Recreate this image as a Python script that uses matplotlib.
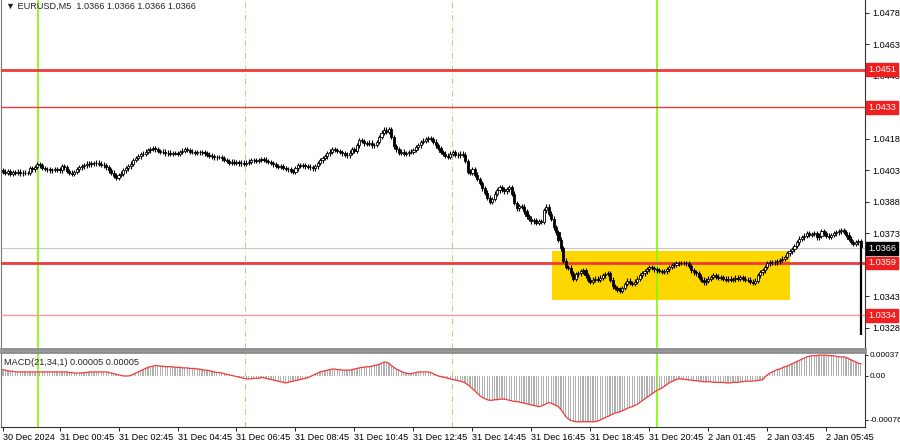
import matplotlib.pyplot as plt
import numpy as np

plt.rcParams['font.family'] = ['Liberation Sans', 'DejaVu Sans']

# EURUSD M5 closes, in points (1e-5) above 1.03000, one value per bar
close_pts = [
    1025, 1020, 1028, 1015, 1022, 1018, 1025, 1016, 1020, 1018,
    1018, 1042, 1035, 1047, 1060, 1055, 1042, 1038, 1035, 1030,
    1032, 1036, 1037, 1030, 1050, 1045, 1028, 1020, 1015, 1022,
    1035, 1045, 1050, 1055, 1062, 1060, 1066, 1064, 1068, 1062,
    1058, 1055, 1045, 1030, 1020, 1005, 995, 1008, 1015, 1030,
    1040, 1050, 1062, 1080, 1090, 1098, 1108, 1110, 1120, 1126,
    1132, 1137, 1130, 1122, 1118, 1120, 1112, 1115, 1110, 1113,
    1113, 1110, 1118, 1125, 1130, 1127, 1120, 1118, 1115, 1118,
    1116, 1118, 1112, 1105, 1100, 1097, 1092, 1095, 1094, 1088,
    1080, 1075, 1068, 1072, 1066, 1070, 1064, 1068, 1062, 1068,
    1072, 1078, 1080, 1076, 1080, 1084, 1082, 1075, 1070, 1066,
    1060, 1052, 1047, 1050, 1042, 1038, 1035, 1028, 1022, 1040,
    1056, 1052, 1055, 1050, 1048, 1045, 1040, 1050, 1065, 1078,
    1090, 1098, 1112, 1120, 1132, 1128, 1122, 1118, 1112, 1105,
    1102, 1115, 1130, 1125, 1150, 1175, 1170, 1160, 1158, 1162,
    1150, 1152, 1165, 1190, 1210, 1225, 1215, 1228, 1190, 1145,
    1130, 1115, 1120, 1108, 1112, 1118, 1120, 1128, 1140, 1150,
    1165, 1172, 1178, 1185, 1180, 1168, 1150, 1138, 1118, 1110,
    1100, 1095, 1110, 1118, 1105, 1102, 1110, 1105, 1075, 1025,
    1020, 1035, 1010, 990, 970, 945, 925, 900, 882, 895,
    920, 935, 950, 940, 930, 940, 952, 920, 875, 850,
    860, 858, 835, 812, 800, 788, 795, 780, 790, 785,
    840, 858, 825, 800, 760, 735, 700, 660, 600, 570,
    568, 540, 515, 535, 540, 550, 556, 530, 510, 500,
    510, 515, 509, 520, 530, 538, 542, 510, 478, 470,
    462, 458, 470, 490, 505, 495, 490, 500, 515, 530,
    540, 550, 560, 570, 565, 560, 555, 552, 548, 550,
    560, 570, 578, 582, 588, 590, 590, 590, 588, 575,
    555, 545, 540, 525, 510, 498, 505, 515, 522, 530,
    525, 520, 523, 515, 510, 515, 509, 512, 520, 515,
    522, 515, 508, 510, 500, 495, 505, 530, 545, 555,
    570, 588, 592, 595, 593, 598, 604, 610, 618, 635,
    645, 655, 670, 688, 705, 712, 720, 730, 722, 728,
    730, 712, 720, 740, 730, 720, 715, 722, 730, 736,
    740, 745, 738, 725, 705, 690, 680, 688, 692, 666,
]

# MACD(21,34,1) histogram, in 1e-5 units, one value per bar
macd_pts = [
    11, 10, 9, 8, 8, 7, 7, 7, 7, 7,
    7, 7, 7, 7, 7, 7, 7, 7, 7, 7,
    7, 7, 7, 7, 7, 7, 7, 6, 6, 5,
    5, 5, 5, 6, 6, 7, 7, 7, 7, 7,
    7, 7, 7, 6, 5, 4, 3, 2, 1, 0,
    0, 0, 1, 3, 5, 7, 9, 11, 13, 15,
    16, 17, 18, 18, 17, 17, 16, 16, 16, 16,
    15, 15, 15, 14, 14, 14, 13, 13, 13, 12,
    12, 11, 10, 10, 9, 8, 7, 6, 6, 5,
    4, 3, 2, 1, 0, -1, -2, -3, -4, -5,
    -5, -5, -4, -4, -4, -3, -3, -4, -5, -6,
    -7, -8, -9, -10, -11, -12, -11, -10, -9, -8,
    -7, -6, -5, -4, -3, -1, 1, 3, 5, 7,
    8, 9, 10, 11, 12, 12, 11, 11, 10, 10,
    10, 10, 11, 12, 13, 14, 15, 15, 16, 16,
    17, 18, 19, 20, 22, 24, 24, 22, 18, 15,
    12, 10, 8, 6, 5, 4, 4, 5, 6, 7,
    7, 7, 7, 7, 6, 4, 2, 0, -1, -2,
    -3, -4, -5, -6, -7, -8, -9, -10, -12, -15,
    -18, -22, -26, -30, -34, -37, -39, -41, -42, -42,
    -41, -41, -40, -40, -40, -41, -42, -43, -44, -44,
    -45, -46, -47, -48, -49, -50, -51, -52, -53, -52,
    -50, -48, -46, -47, -49, -51, -53, -58, -64, -70,
    -74, -77, -78, -79, -79, -79, -79, -79, -79, -79,
    -79, -79, -78, -76, -74, -72, -70, -68, -66, -64,
    -63, -62, -60, -58, -56, -54, -53, -51, -49, -46,
    -43, -40, -37, -34, -31, -28, -25, -23, -21, -18,
    -15, -12, -10, -8, -6, -5, -5, -6, -6, -7,
    -7, -8, -8, -9, -9, -10, -10, -10, -10, -11,
    -11, -11, -11, -11, -12, -12, -12, -11, -11, -11,
    -10, -10, -9, -9, -9, -9, -8, -8, -7, -7,
    -2, 2, 5, 7, 9, 11, 12, 14, 16, 17,
    19, 21, 23, 25, 27, 29, 31, 33, 34, 35,
    35, 35, 36, 36, 36, 36, 35, 35, 35, 34,
    33, 33, 33, 32, 30, 28, 26, 24, 22, 21,
]

last_low = 1.03246  # long wick of the current bar
current_price = 1.0366

time_labels = ['30 Dec 2024', '31 Dec 00:45', '31 Dec 02:45', '31 Dec 04:45', '31 Dec 06:45',
               '31 Dec 08:45', '31 Dec 10:45', '31 Dec 12:45', '31 Dec 14:45', '31 Dec 16:45',
               '31 Dec 18:45', '31 Dec 20:45', '2 Jan 01:45', '2 Jan 03:45', '2 Jan 05:45']
label_bars = [0, 23, 47, 71, 95, 119, 143, 167, 191, 215, 239, 263, 287, 311, 335]

price_ticks = [1.0478, 1.0463, 1.0448, 1.0418, 1.0403, 1.0388, 1.0373, 1.0343, 1.0328]
levels = [1.0451, 1.0433, 1.0359, 1.0334]
level_widths = [2.0, 1.0, 2.0, 1.0]
level_colors = ['#f03a3a', '#f03a3a', '#f03a3a', '#f79a9a']

green_bars = [14.2, 266]
dash_bars = [98.5, 182.7]
box_bars = (223.4, 320.2)
box_prices = (1.03413, 1.03647)

macd_ticks = [0.00037, 0.0, -0.00076]
macd_tick_labels = ['0.00037', '0.00', '-0.00076']

closes = 1.03 + np.array(close_pts) / 1e5
opens = np.r_[closes[0] + 0.00005, closes[:-1]]
macd = np.array(macd_pts) / 1e5
idx = np.arange(len(closes))

fig = plt.figure(figsize=(9, 4.41), dpi=100)
W, H = 900, 441
ax = fig.add_axes([1 / W, (H - 349) / H, 864 / W, 349 / H])
ax2 = fig.add_axes([1 / W, (H - 427) / H, 864 / W, 75 / H])

xlim = (-0.81, 350.7)
FS = 6.6

# main panel
ax.set_xlim(*xlim)
ax.set_ylim(1.0318, 1.048419)

ax.add_patch(plt.Rectangle((box_bars[0], box_prices[0]), box_bars[1] - box_bars[0],
                           box_prices[1] - box_prices[0], color='#ffd700', zorder=1, lw=0))
for lv, lw, c in zip(levels, level_widths, level_colors):
    ax.axhline(lv, color=c, lw=lw, zorder=3)
ax.axhline(current_price, color='#c8c8c8', lw=0.8, zorder=1.5)
for b in green_bars:
    ax.axvline(b, color='#7cfc00', lw=1.2, zorder=2)
    ax2.axvline(b, color='#7cfc00', lw=1.2, zorder=2)
for b in dash_bars:
    ax.axvline(b, color='#9be36a', lw=0.7, ls=(0, (6, 3, 1, 3)), zorder=2)
    ax2.axvline(b, color='#9be36a', lw=0.7, ls=(0, (6, 3, 1, 3)), zorder=2)

hi = np.maximum(opens, closes)
lo = np.minimum(opens, closes)
wick = 0.00011
ax.vlines(idx, lo - wick, hi + wick, color='black', lw=0.8, zorder=4)
ax.vlines(idx[-1], last_low, hi[-1], color='black', lw=1.6, zorder=4)
up = closes >= opens
body = np.maximum(hi - lo, 0.00001)
ax.bar(idx[up], body[up], bottom=lo[up], width=0.85,
       color='white', edgecolor='black', lw=0.6, zorder=5)
ax.bar(idx[~up], body[~up], bottom=lo[~up], width=0.85,
       color='black', edgecolor='black', lw=0.6, zorder=5)

ax.set_xticks([])
ax.yaxis.tick_right()
ax.set_yticks(price_ticks)
ax.set_yticklabels(['%.4f' % p for p in price_ticks])
ax.tick_params(axis='y', length=3, width=0.6, pad=2, labelsize=FS, colors='black')
ax.spines['top'].set_visible(False)
ax.spines['left'].set_color('#777777')
ax.spines['right'].set_color('#333333')
ax.spines['bottom'].set_color('#8c8c8c')
ax.spines['bottom'].set_linewidth(2)

for lv in levels:
    ax.text(1.0035, lv, '%.4f' % lv, transform=ax.get_yaxis_transform(), fontsize=FS,
            color='white', va='center', ha='left', zorder=10,
            bbox=dict(boxstyle='square,pad=0.2', fc='#f01e1e', ec='#f01e1e'))
ax.text(1.0035, current_price, '%.4f' % current_price, transform=ax.get_yaxis_transform(),
        fontsize=FS, color='white', va='center', ha='left', zorder=10,
        bbox=dict(boxstyle='square,pad=0.2', fc='black', ec='black'))

ax.text(0.006, 0.982, '\u25bc EURUSD,M5  1.0366 1.0366 1.0366 1.0366', transform=ax.transAxes,
        fontsize=FS, va='center', ha='left', color='#222222',
        family=['Liberation Sans', 'DejaVu Sans'])

# MACD panel
ax2.set_xlim(*xlim)
ax2.set_ylim(-0.000881, 0.000414)
ax2.bar(idx, macd, width=0.5, color='#b0b0b0', zorder=3)
ax2.plot(idx, macd, color='#f03a3a', lw=0.9, zorder=4)
ax2.yaxis.tick_right()
ax2.set_yticks(macd_ticks)
ax2.set_yticklabels(macd_tick_labels)
ax2.tick_params(axis='y', length=2, width=0.6, pad=1, labelsize=5.9)
ax2.set_xticks(label_bars)
ax2.set_xticklabels(time_labels, ha='left')
ax2.tick_params(axis='x', length=3, width=0.6, pad=1.5, labelsize=FS)
ax2.spines['top'].set_color('#8c8c8c')
ax2.spines['top'].set_linewidth(2)
ax2.spines['left'].set_color('#777777')
ax2.spines['right'].set_color('#333333')
ax2.spines['bottom'].set_color('#333333')
ax2.text(0.004, 0.86, 'MACD(21,34,1) 0.00005 0.00005', transform=ax2.transAxes,
         fontsize=FS, va='center', ha='left', color='#222222')

plt.savefig('out.png', dpi=100)
